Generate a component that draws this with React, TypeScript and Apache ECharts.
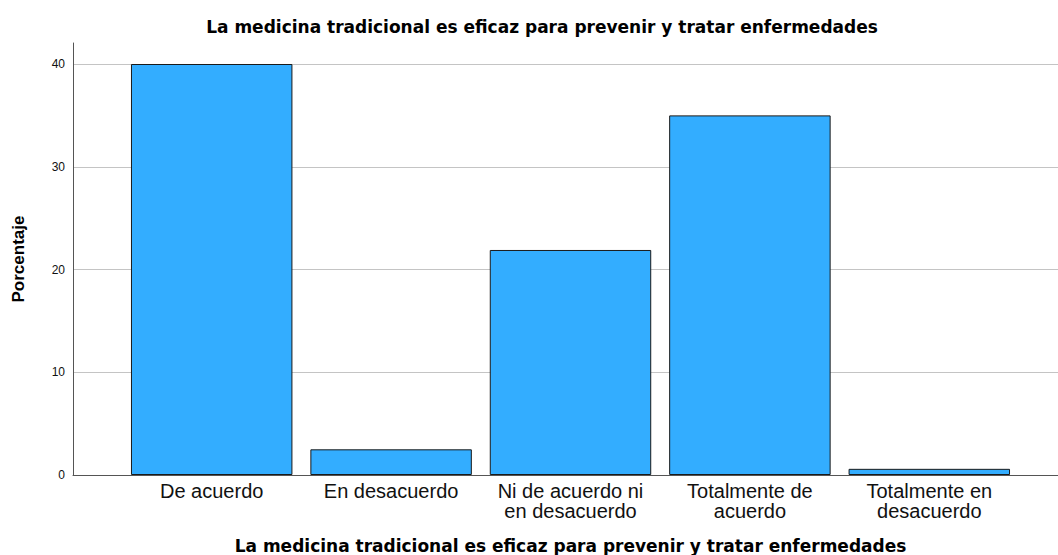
import React, { useEffect, useRef } from "react";
import * as echarts from "echarts";

const categories = [
  "De acuerdo",
  "En desacuerdo",
  "Ni de acuerdo ni\nen desacuerdo",
  "Totalmente de\nacuerdo",
  "Totalmente en\ndesacuerdo",
];
const percentages = [40.0, 2.5, 21.9, 35.0, 0.6];
const yTicks = [0, 10, 20, 30, 40];

const chartTitle = "La medicina tradicional es eficaz para prevenir y tratar enfermedades";
const xTitle = "La medicina tradicional es eficaz para prevenir y tratar enfermedades";
const yTitle = "Porcentaje";

export default function App() {
  const ref = useRef<HTMLDivElement>(null);
  useEffect(() => {
    if (!ref.current) return;
    const chart = echarts.init(ref.current, null, { renderer: "svg" });
    const font = "'Liberation Sans', Arial, sans-serif";
    const boldFont = "'DejaVu Sans', sans-serif";
    const yMax = yTicks[yTicks.length - 1];
    chart.setOption({
      animation: false,
      backgroundColor: "#ffffff",
      textStyle: { fontFamily: font },
      title: {
        text: chartTitle,
        left: 537,
        textAlign: "center",
        top: 13,
        textStyle: { fontSize: 17, fontWeight: "bold", color: "#000", fontFamily: boldFont },
      },
      grid: [
        { left: 73, right: 0, top: 64, bottom: 80, containLabel: false, outerBoundsMode: "none" },
        { left: 122, right: 39, top: 64, bottom: 80, containLabel: false, outerBoundsMode: "none" },
        { left: 73, right: 0, top: 43, bottom: 80, containLabel: false, outerBoundsMode: "none" },
      ],
      xAxis: [
        {
          gridIndex: 0,
          type: "category",
          data: categories,
          axisLine: { show: true, lineStyle: { color: "#555", width: 1 } },
          axisTick: { show: false },
          axisLabel: { show: false },
          splitLine: { show: false },
        },
        {
          gridIndex: 1,
          type: "category",
          data: categories,
          axisLine: { show: false },
          axisTick: { show: false },
          axisLabel: {
            show: true,
            interval: 0,
            margin: 6,
            fontSize: 20,
            lineHeight: 20,
            color: "#111",
            fontFamily: font,
          },
          name: xTitle,
          nameLocation: "middle",
          nameGap: 62,
          nameTextStyle: { fontSize: 17, fontWeight: "bold", color: "#000", fontFamily: boldFont, lineHeight: 18 },
        },
        {
          gridIndex: 2,
          type: "category",
          data: categories,
          show: false,
        },
      ],
      yAxis: [
        {
          gridIndex: 0,
          type: "value",
          min: 0,
          max: yMax,
          interval: 10,
          axisLine: { show: false },
          axisTick: { show: false },
          axisLabel: { show: true, fontSize: 12, color: "#111", margin: 8, fontFamily: font },
          splitLine: { show: true, lineStyle: { color: "#c4c4c4", width: 1 } },
        },
        {
          gridIndex: 1,
          type: "value",
          min: 0,
          max: yMax,
          interval: 10,
          show: false,
        },
        {
          gridIndex: 2,
          type: "value",
          min: 0,
          max: 42,
          axisLine: { show: true, lineStyle: { color: "#555", width: 1 } },
          axisTick: { show: false },
          axisLabel: { show: false },
          splitLine: { show: false },
          name: yTitle,
          nameLocation: "middle",
          nameGap: 46,
          nameTextStyle: { fontSize: 17, fontWeight: "bold", color: "#000", fontFamily: font },
        },
      ],
      series: [
        {
          type: "bar",
          xAxisIndex: 1,
          yAxisIndex: 1,
          data: percentages,
          barCategoryGap: "10%",
          itemStyle: { color: "#33adff", borderColor: "#1a1a1a", borderWidth: 1 },
        },
      ],
    });
    return () => chart.dispose();
  }, []);
  return (
    <div
      ref={ref}
      style={{ position: "fixed", left: 0, top: 0, width: 1058, height: 555 }}
    />
  );
}
